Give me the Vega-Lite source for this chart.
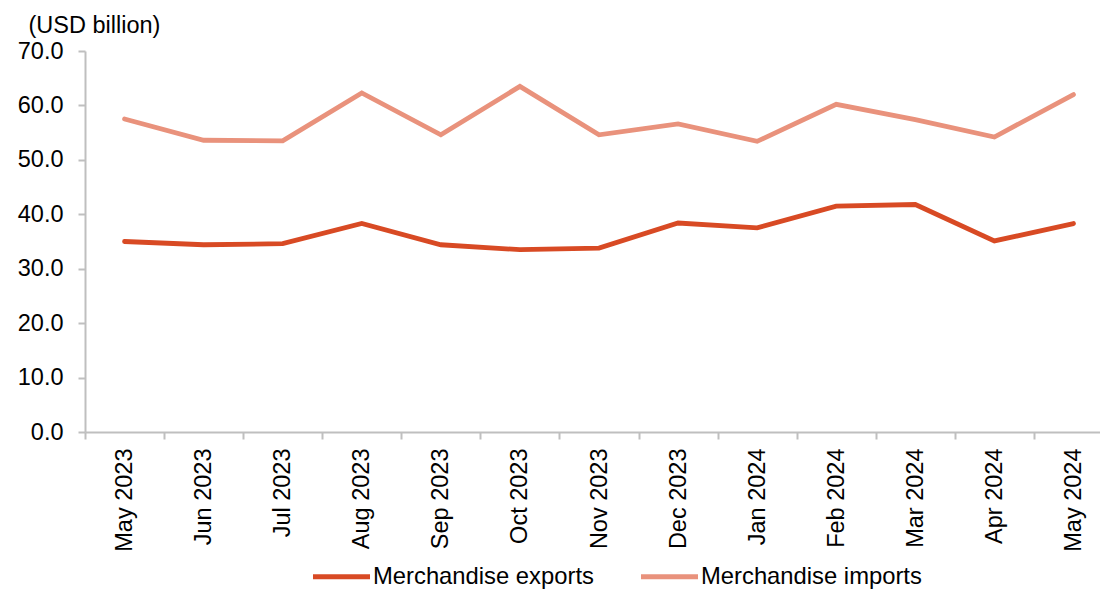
{
  "$schema": "https://vega.github.io/schema/vega-lite/v6.json",
  "autosize": {"type": "none"},
  "width": 1015,
  "height": 381,
  "padding": {"left": 85, "top": 51, "right": 0, "bottom": 160},
  "background": "white",
  "config": {
    "view": {"stroke": null},
    "font": "Liberation Sans",
    "axis": {"labelFont": "Liberation Sans", "titleFont": "Liberation Sans"},
    "legend": {"labelFont": "Liberation Sans"}
  },
  "data": {
    "values": [
      {"month": "May 2023", "series": "Merchandise exports", "value": 35.0},
      {"month": "Jun 2023", "series": "Merchandise exports", "value": 34.4},
      {"month": "Jul 2023", "series": "Merchandise exports", "value": 34.6},
      {"month": "Aug 2023", "series": "Merchandise exports", "value": 38.3},
      {"month": "Sep 2023", "series": "Merchandise exports", "value": 34.4},
      {"month": "Oct 2023", "series": "Merchandise exports", "value": 33.5},
      {"month": "Nov 2023", "series": "Merchandise exports", "value": 33.8},
      {"month": "Dec 2023", "series": "Merchandise exports", "value": 38.4},
      {"month": "Jan 2024", "series": "Merchandise exports", "value": 37.5},
      {"month": "Feb 2024", "series": "Merchandise exports", "value": 41.5},
      {"month": "Mar 2024", "series": "Merchandise exports", "value": 41.8},
      {"month": "Apr 2024", "series": "Merchandise exports", "value": 35.1},
      {"month": "May 2024", "series": "Merchandise exports", "value": 38.3},
      {"month": "May 2023", "series": "Merchandise imports", "value": 57.5},
      {"month": "Jun 2023", "series": "Merchandise imports", "value": 53.6},
      {"month": "Jul 2023", "series": "Merchandise imports", "value": 53.5},
      {"month": "Aug 2023", "series": "Merchandise imports", "value": 62.3},
      {"month": "Sep 2023", "series": "Merchandise imports", "value": 54.6},
      {"month": "Oct 2023", "series": "Merchandise imports", "value": 63.5},
      {"month": "Nov 2023", "series": "Merchandise imports", "value": 54.6},
      {"month": "Dec 2023", "series": "Merchandise imports", "value": 56.6},
      {"month": "Jan 2024", "series": "Merchandise imports", "value": 53.4},
      {"month": "Feb 2024", "series": "Merchandise imports", "value": 60.2},
      {"month": "Mar 2024", "series": "Merchandise imports", "value": 57.4},
      {"month": "Apr 2024", "series": "Merchandise imports", "value": 54.2},
      {"month": "May 2024", "series": "Merchandise imports", "value": 62.0}
    ]
  },
  "mark": {"type": "line", "strokeWidth": 4.8, "strokeCap": "round", "strokeJoin": "miter"},
  "encoding": {
    "x": {
      "field": "month",
      "type": "nominal",
      "sort": null,
      "scale": {"type": "band", "paddingInner": 0, "paddingOuter": 0, "range": [0, 1028]},
      "axis": {
        "title": null,
        "labelAngle": -90,
        "labelAlign": "right",
        "labelBaseline": "middle",
        "labelFontSize": 23.5,
        "labelColor": "#000000",
        "labelPadding": 9,
        "tickBand": "extent",
        "tickSize": 7,
        "tickColor": "#BFBFBF",
        "tickWidth": 2,
        "domainColor": "#BFBFBF",
        "domainWidth": 2,
        "grid": false
      }
    },
    "y": {
      "field": "value",
      "type": "quantitative",
      "scale": {"domain": [0, 70], "nice": false},
      "axis": {
        "title": "(USD billion)",
        "titleAngle": 0,
        "titleAlign": "left",
        "titleBaseline": "middle",
        "titleX": -57,
        "titleY": -26,
        "titleFontSize": 23.5,
        "titleFontWeight": "normal",
        "titleColor": "#000000",
        "values": [0, 10, 20, 30, 40, 50, 60, 70],
        "format": ".1f",
        "labelFontSize": 23.5,
        "labelColor": "#000000",
        "labelPadding": 15,
        "tickSize": 7,
        "tickColor": "#BFBFBF",
        "tickWidth": 2,
        "domainColor": "#BFBFBF",
        "domainWidth": 2,
        "grid": false
      }
    },
    "color": {
      "field": "series",
      "type": "nominal",
      "scale": {"domain": ["Merchandise exports", "Merchandise imports"], "range": ["#D84A24", "#E9927C"]},
      "legend": {
        "title": null,
        "orient": "none",
        "legendX": 225,
        "legendY": 494,
        "direction": "horizontal",
        "symbolType": "stroke",
        "symbolSize": 3250,
        "symbolStrokeWidth": 5,
        "labelFontSize": 23.8,
        "labelColor": "#000000",
        "labelOffset": 0,
        "columnPadding": 36,
        "labelLimit": 400
      }
    }
  }
}
